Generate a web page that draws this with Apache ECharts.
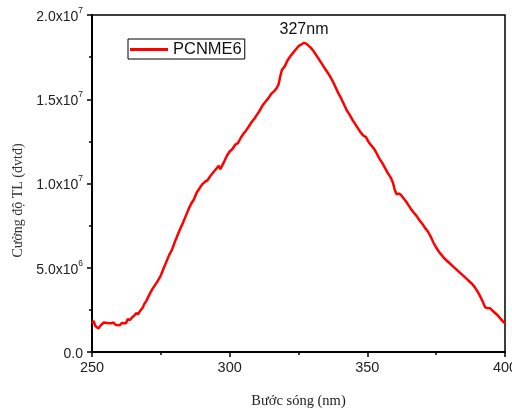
<!DOCTYPE html>
<html><head><meta charset="utf-8">
<script src="https://cdn.jsdelivr.net/npm/echarts@6/dist/echarts.min.js"></script>
<style>html,body{margin:0;padding:0;background:#fff}#c{width:512px;height:410px}</style>
</head><body><div id="c"></div>
<script>
// wavelength (nm)
const wavelength = [250,250.6,251.2,251.8,252.4,253,253.6,254.3,255,255.6,256.3,257,257.8,258.5,259.2,260,260.8,261.5,262.3,263,263.8,264.5,265.3,266,266.8,267.5,268.3,269,269.8,270.5,271.3,272,273,274,275,276,277,278,279,280,281,282,283,284,285,286,287,288,289,290,291,292,293,294,295,296,296.6,297.2,298,299,300,301,302,303,304,305,306,307,308,309,310,311,312,313,314,315,316,317,317.8,318.5,319,320,321,322,323,324,325,326,327,327.8,328.5,329.5,330.5,331.5,332.5,333.5,334.5,335.5,336.5,337.5,338.5,339.5,340.5,341.5,342.5,343.5,344.5,345.5,346.5,347.5,348.5,349.5,350.5,351.5,352.5,353.5,354.5,355.5,356.5,357.5,358.5,359.3,360,360.7,361.5,362.3,363,364,365,366,367,368,369,370,371,372,373,374,375,376,377,378,379,380,381,382,383,384,385,386,387,388,389,390,391,392,392.8,393.6,394.5,395.5,396.5,397.5,398.5,399.3,400];
// TL intensity, in millions (x10^6)
const intensityM = [1.70,1.85,1.55,1.45,1.40,1.55,1.62,1.75,1.85,1.72,1.80,1.70,1.75,1.62,1.68,1.58,1.72,1.80,1.70,1.95,1.90,2.05,2.15,2.30,2.25,2.45,2.60,2.85,3.05,3.30,3.55,3.75,4.00,4.25,4.55,4.95,5.35,5.75,6.05,6.50,6.90,7.30,7.65,8.05,8.45,8.80,9.05,9.45,9.70,9.95,10.10,10.20,10.45,10.65,10.85,11.05,10.85,10.95,11.30,11.65,11.90,12.05,12.30,12.40,12.70,12.95,13.15,13.40,13.65,13.85,14.10,14.35,14.65,14.85,15.05,15.30,15.45,15.65,15.90,16.45,16.75,16.95,17.30,17.55,17.75,17.95,18.15,18.25,18.35,18.30,18.20,18.05,17.85,17.60,17.35,17.10,16.85,16.60,16.35,16.05,15.70,15.35,15.05,14.70,14.35,14.10,13.80,13.55,13.30,13.05,12.85,12.75,12.45,12.25,12.05,11.75,11.45,11.20,10.90,10.60,10.35,10.05,9.60,9.35,9.40,9.30,9.20,8.95,8.70,8.45,8.25,8.05,7.80,7.60,7.35,7.15,6.85,6.50,6.20,5.95,5.75,5.55,5.40,5.25,5.10,4.95,4.80,4.65,4.50,4.35,4.20,4.05,3.85,3.60,3.30,2.95,2.65,2.60,2.60,2.45,2.30,2.15,1.95,1.80,1.70];
const seriesName = 'PCNME6';
const peakWavelength = 327;
const peakLabel = '327nm';

const data = wavelength.map((w,i)=>[w, intensityM[i]*1e6]);
let peakIdx = 0;
intensityM.forEach((v,i)=>{ if (v > intensityM[peakIdx]) peakIdx = i; });

function yFmt(v){
  if (v === 0) return '{b|0.0}';
  const e = Math.floor(Math.log10(v) + 1e-9);
  const m = v / Math.pow(10, e);
  return '{b|' + m.toFixed(1) + 'x10}{s|' + e + '}';
}

const chart = echarts.init(document.getElementById('c'));
chart.setOption({
  animation: false,
  backgroundColor: '#fff',
  grid: {left: 92, right: 7, top: 15, bottom: 58, containLabel: false, outerBoundsMode: 'none',
         show: true, borderColor: '#000', borderWidth: 1.5, backgroundColor: 'transparent'},
  legend: {
    data: [{name: seriesName, icon: 'rect'}], left: 128, top: 39, orient: 'horizontal',
    borderColor: '#000', borderWidth: 1, padding: [2, 3, 1, 2],
    itemWidth: 38, itemHeight: 3, itemGap: 4,
    itemStyle: {color: '#ff0000'},
    textStyle: {fontFamily: 'Liberation Sans, Arial', fontSize: 16.5, color: '#111'}
  },
  xAxis: {
    type: 'value', min: 250, max: 400, interval: 50,
    name: 'Bước sóng (nm)', nameLocation: 'middle', nameGap: 42,
    nameTextStyle: {fontFamily: 'Liberation Serif, Times New Roman', fontSize: 14.5, color: '#222'},
    axisLine: {lineStyle: {color: '#000', width: 2}},
    axisTick: {inside: false, length: 5, lineStyle: {color: '#000', width: 1.5}},
    minorTick: {show: true, splitNumber: 2, length: 3, lineStyle: {color: '#000', width: 1.5}},
    splitLine: {show: false},
    axisLabel: {fontFamily: 'Liberation Sans, Arial', fontSize: 14.5, color: '#222', margin: 8}
  },
  yAxis: {
    type: 'value', min: 0, max: 2e7, interval: 5e6,
    name: 'Cường độ TL (đvtđ)', nameLocation: 'middle', nameGap: 66, nameRotate: 90,
    nameTextStyle: {fontFamily: 'Liberation Serif, Times New Roman', fontSize: 14, color: '#333', padding: [0, 34, 0, 0]},
    axisLine: {lineStyle: {color: '#000', width: 2}},
    axisTick: {inside: false, length: 5, lineStyle: {color: '#000', width: 1.5}},
    minorTick: {show: true, splitNumber: 2, length: 3, lineStyle: {color: '#000', width: 1.5}},
    splitLine: {show: false},
    axisLabel: {
      formatter: yFmt, margin: 9,
      rich: {
        b: {fontFamily: 'Liberation Sans, Arial', fontSize: 14, color: '#222', lineHeight: 18, verticalAlign: 'bottom'},
        s: {fontFamily: 'Liberation Sans, Arial', fontSize: 8.5, color: '#222', lineHeight: 18, verticalAlign: 'top'}
      }
    }
  },
  series: [{
    name: seriesName, type: 'line', data: data, showSymbol: false, symbol: 'none',
    lineStyle: {color: '#ff0000', width: 2.5}, itemStyle: {color: '#ff0000'},
    markPoint: {
      symbol: 'circle', symbolSize: 0,
      data: [{coord: [peakWavelength, intensityM[peakIdx]*1e6], value: peakLabel}],
      label: {show: true, position: 'top', distance: 5, formatter: peakLabel, fontFamily: 'Liberation Sans, Arial', fontSize: 16, color: '#111'}
    }
  }]
});
</script></body></html>
